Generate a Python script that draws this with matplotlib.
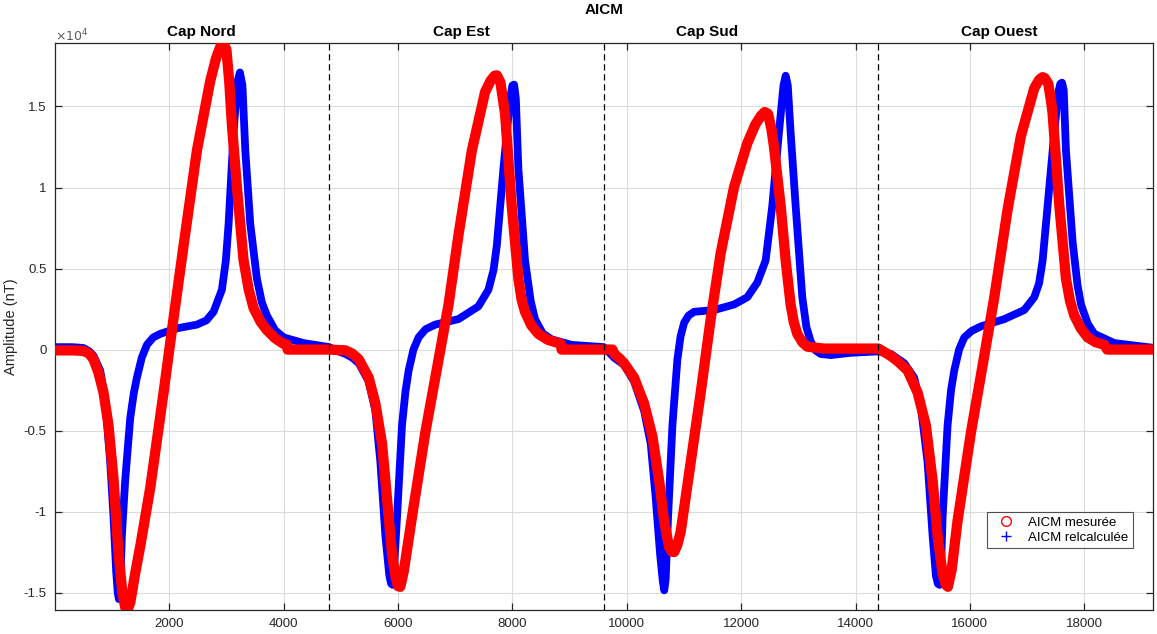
import matplotlib
matplotlib.use("Agg")
import matplotlib.pyplot as plt
from matplotlib.ticker import FuncFormatter, FixedLocator
from matplotlib.lines import Line2D
import matplotlib.transforms as mtransforms

plt.rcParams['font.family'] = ['Liberation Sans', 'DejaVu Sans']

# ---- data ----
red_x = [0, 300, 500, 600, 676, 760, 851, 939, 1026, 1114, 1180, 1230, 1270, 1320, 1400, 1500, 1668, 1901, 2047, 2250, 2484,
         2717, 2820, 2900, 2950, 3000, 3050, 3096, 3184, 3300, 3390, 3475, 3600, 3708, 3850, 4000, 4060, 4070, 4800,
         5080, 5200, 5314, 5488, 5605, 5721, 5808, 5895, 5960, 6000, 6040, 6100, 6244, 6477, 6709, 6884, 7058, 7291, 7523,
         7620, 7690, 7730, 7790, 7840, 7872, 7988, 8105, 8160, 8221, 8330, 8453, 8620, 8802, 8850, 8860, 9600,
         9750, 9779, 9860, 9953, 10128, 10303, 10448, 10565, 10652, 10740, 10790, 10830, 10880, 10943, 11118, 11293, 11467,
         11642, 11875, 12108, 12250, 12350, 12410, 12470, 12530, 12574, 12690, 12778, 12865, 12920, 12981, 13070, 13156, 13447, 14400,
         14560, 14650, 14735, 14910, 15085, 15230, 15347, 15434, 15520, 15575, 15615, 15680, 15784, 16017, 16251, 16426, 16659,
         16892, 17125, 17210, 17270, 17310, 17370, 17420, 17446, 17563, 17679, 17750, 17825, 17940, 18058, 18200, 18350, 18400, 19200]
red_y = [-50, -50, -80, -250, -600, -1400, -2650, -4700, -8000, -12600, -15000, -15900, -16070, -15600, -13900, -12000, -8530, -2650, 1200, 6400, 12280,
         16580, 18000, 18750, 18900, 18500, 16500, 13870, 10000, 5500, 3700, 2560, 1700, 1200, 700, 350, 300, 0, 0,
         -50, -250, -600, -1740, -3330, -5810, -9200, -12600, -14100, -14600, -14640, -13700, -10340, -5130, -610, 2780, 7080, 12280, 15900,
         16600, 16900, 16920, 16500, 15300, 14550, 8890, 4370, 3100, 2330, 1500, 970, 600, 400, 350, 0, 0,
         0, -270, -500, -840, -1740, -3330, -5360, -8075, -10560, -12200, -12480, -12490, -12100, -11240, -6940, -2650, 1880,
         5950, 10020, 12740, 13900, 14450, 14660, 14550, 13600, 12510, 8890, 5500, 2780, 1700, 970, 450, 180, 60, 60,
         -270, -480, -720, -1290, -2650, -4680, -8075, -11470, -13800, -14500, -14640, -13600, -10560, -5130, -380, 3230, 8660,
         13190, 16130, 16650, 16810, 16750, 16400, 15300, 14550, 8890, 4370, 3000, 2100, 1300, 750, 450, 300, 0, 0]

blue_x = [0, 300, 500, 600, 676, 793, 880, 968, 1026, 1073, 1100, 1120, 1145, 1172, 1230, 1318, 1380, 1434, 1520, 1610, 1720,
          1843, 2134, 2484, 2650, 2775, 2921, 2990, 3038, 3125, 3190, 3236, 3280, 3330, 3417, 3533, 3620, 3708, 3850, 4000, 4350, 4800,
          4950, 5081, 5200, 5314, 5488, 5605, 5692, 5779, 5849, 5880, 5905, 5930, 5983, 6070, 6130, 6186, 6270, 6360, 6480, 6651,
          7058, 7407, 7581, 7670, 7727, 7843, 7960, 8000, 8030, 8060, 8105, 8221, 8320, 8395, 8530, 8686, 9035, 9600,
          9779, 9953, 10128, 10303, 10419, 10507, 10582, 10630, 10655, 10680, 10722, 10798, 10885, 10940, 11002, 11080, 11176, 11526,
          11875, 12108, 12283, 12428, 12545, 12661, 12740, 12778, 12815, 12865, 12952, 13069, 13140, 13214, 13300, 13389, 13564,
          13913, 14400,
          14618, 14851, 15026, 15143, 15259, 15347, 15405, 15440, 15470, 15495, 15522, 15609, 15670, 15726, 15810, 15901, 16030,
          16192, 16601, 16950, 17125, 17210, 17271, 17417, 17540, 17580, 17610, 17640, 17679, 17796, 17880, 17942, 18060, 18175,
          18525, 19200]
blue_y = [150, 150, 100, -100, -380, -1290, -3100, -6940, -10340, -13730, -15000, -15400, -14500, -11470, -8075, -4230, -2700, -1740, -500, 294, 750,
          970, 1310, 1540, 1800, 2330, 3690, 5500, 7760, 13400, 16500, 17100, 16300, 12280, 7760, 4370, 2900, 2100, 1200, 750, 400, 150,
          -100, -270, -500, -840, -1970, -3780, -6940, -11470, -13960, -14450, -14520, -13500, -10340, -4680, -2600, -1290, 0, 750, 1250, 1540,
          1880, 2670, 3690, 4900, 6400, 11150, 15500, 16300, 16350, 15500, 11150, 5500, 3000, 1880, 1000, 630, 290, 150,
          -500, -950, -1970, -3780, -5810, -9200, -12600, -14300, -14860, -14200, -10340, -4680, -610, 800, 1650, 2100, 2330, 2440,
          2780, 3230, 4140, 5500, 8890, 13410, 16300, 16900, 16300, 13410, 8890, 3230, 1400, 520, -50, -270, -340,
          -200, -110,
          -270, -840, -1740, -3550, -6940, -11470, -13960, -14450, -14520, -13500, -10340, -4680, -2500, -1290, 0, 750, 1150,
          1430, 1880, 2440, 3230, 4100, 5500, 11150, 15800, 16400, 16470, 16000, 12280, 6630, 4000, 2780, 1600, 970,
          400, 110]

separators = [4800, 9600, 14400]
cap_labels = ['Cap Nord', 'Cap Est', 'Cap Sud', 'Cap Ouest']
cap_label_x = [2560, 7115, 11405, 16520]
x_ticks = [2000, 4000, 6000, 8000, 10000, 12000, 14000, 16000, 18000]
y_ticks = [-15000, -10000, -5000, 0, 5000, 10000, 15000]

# ---- figure ----
fig = plt.figure(figsize=(11.57, 6.34), dpi=100)
ax = fig.add_axes([0.0474, 0.0379, 0.9491, 0.8938])

ax.plot(blue_x, blue_y, color='#0000ff', lw=5.6,
        solid_joinstyle='round', solid_capstyle='round', zorder=3)
ax.plot(red_x, red_y, color='#ff0000', lw=7.4,
        solid_joinstyle='round', solid_capstyle='round', zorder=4)

for s in separators:
    ax.axvline(s, color='k', ls=(0, (5, 3)), lw=0.9, zorder=5)

ax.set_xlim(0, 19200)
ax.set_ylim(-16070, 18900)
ax.xaxis.set_major_locator(FixedLocator(x_ticks))
ax.yaxis.set_major_locator(FixedLocator(y_ticks))
ax.yaxis.set_major_formatter(FuncFormatter(lambda v, p: '%g' % (v / 1e4)))

gc = (0.15, 0.15, 0.15)
ax.grid(True, color=(0.86, 0.86, 0.86), lw=0.8, zorder=0)
ax.set_axisbelow(True)
ax.tick_params(direction='in', top=True, right=True, length=5, width=0.9,
               colors=gc, labelsize=9.5, labelcolor=gc, pad=6)
for sp in ax.spines.values():
    sp.set_color(gc)
    sp.set_linewidth(0.9)

ax.set_ylabel('Amplitude (nT)', fontsize=10.5, color=gc, labelpad=4)
ax.text(0.0, 1.003, r'$\times10^{4}$', transform=ax.transAxes, ha='left', va='baseline',
        fontsize=9, color=(0.35, 0.35, 0.35))

trans = mtransforms.blended_transform_factory(ax.transData, ax.transAxes)
for lab, xc in zip(cap_labels, cap_label_x):
    ax.text(xc, 1.020, lab, transform=trans, ha='center', va='center',
            fontsize=11, fontweight='bold', color='k')
ax.text(0.5, 1.0588, 'AICM', transform=ax.transAxes, ha='center', va='center',
        fontsize=11, fontweight='bold', color='k')

h_red = Line2D([], [], color='#ff0000', marker='o', ls='none', ms=7, mfc='none', mew=1.0)
h_blue = Line2D([], [], color='#0000ff', marker='+', ls='none', ms=7, mew=1.0)
leg = ax.legend([h_red, h_blue], ['AICM mesurée', 'AICM relcalculée'], loc='lower right',
                bbox_to_anchor=(0.982, 0.109), fontsize=9.5, frameon=True, fancybox=False,
                borderpad=0.35, labelspacing=0.2, handletextpad=0.6, borderaxespad=0,
                handlelength=2.2)
leg.get_frame().set_edgecolor(gc)
leg.get_frame().set_linewidth(0.8)
leg.set_zorder(10)

fig.savefig('out.png', dpi=100)
